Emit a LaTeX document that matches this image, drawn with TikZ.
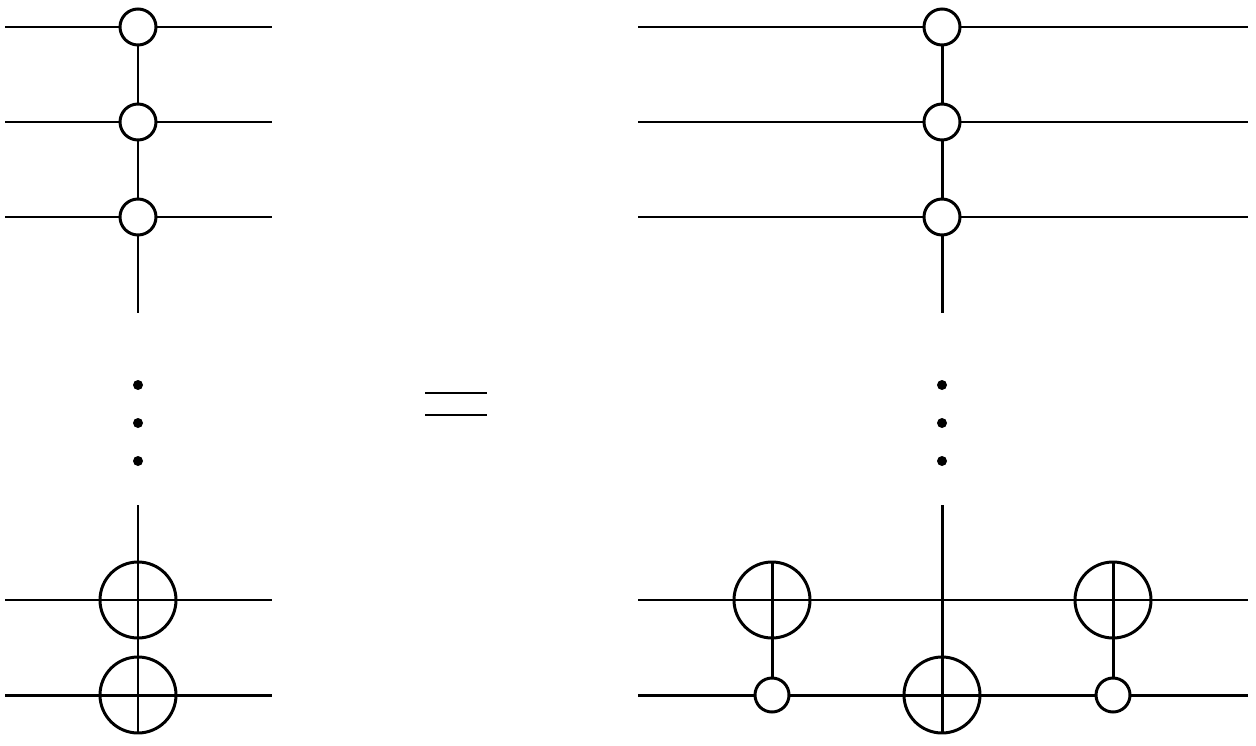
\documentclass[tikz,border=0pt]{standalone}
\begin{document}
\begin{tikzpicture}[x=0.02cm,y=-0.02cm,line width=1.7pt,
  ctrl/.style={circle,draw,fill=white,minimum size=0.72cm,inner sep=0pt},
  sctrl/.style={circle,draw,fill=white,minimum size=0.68cm,inner sep=0pt},
  targ/.style={circle,draw,minimum size=1.52cm,inner sep=0pt},
  dotn/.style={circle,fill,minimum size=0.2cm,inner sep=0pt}]
\useasboundingbox (0,0) rectangle (1256,746);
% left wires
\foreach \y in {27,122,217,600,695} \draw (5,\y) -- (272,\y);
\foreach \y in {27,122,217,600,695} \draw (638,\y) -- (1248,\y);
% left
\coordinate (lt) at (138,313); \coordinate (lb) at (138,505);
\draw (138,27) -- (lt); \draw (lb) -- (138,695);
\node[ctrl] (l1) at (138,27) {};
\node[ctrl] (l2) at (138,122) {};
\node[ctrl] (l3) at (138,217) {};
\node[targ] (lt1) at (138,600) {};
\node[targ] (lt2) at (138,695) {};
\foreach \y in {385,423,461} \node[dotn] at (138,\y) {};
% equals
\coordinate (e1) at (425,393); \coordinate (e2) at (487,393);
\coordinate (e3) at (425,415); \coordinate (e4) at (487,415);
\draw (e1) -- (e2); \draw (e3) -- (e4);
% right
\coordinate (rt) at (942,313); \coordinate (rb) at (942,505);
\draw (942,27) -- (rt); \draw (rb) -- (942,733);
\node[ctrl] (r1) at (942,27) {};
\node[ctrl] (r2) at (942,122) {};
\node[ctrl] (r3) at (942,217) {};
\node[targ] (rt2) at (942,695) {};
\foreach \y in {385,423,461} \node[dotn] at (942,\y) {};
\foreach \x/\n in {772/a,1113/b}{
  \draw (\x,562) -- (\x,695);
  \node[targ] (t\n) at (\x,600) {};
  \node[sctrl] (c\n) at (\x,695) {};
  \draw (\x-38,600) -- (\x+38,600);
}
\draw (100,600) -- (176,600); \draw (100,695) -- (176,695);
\draw (138,562) -- (138,733);
\draw (904,695) -- (980,695);
\end{tikzpicture}
\end{document}
